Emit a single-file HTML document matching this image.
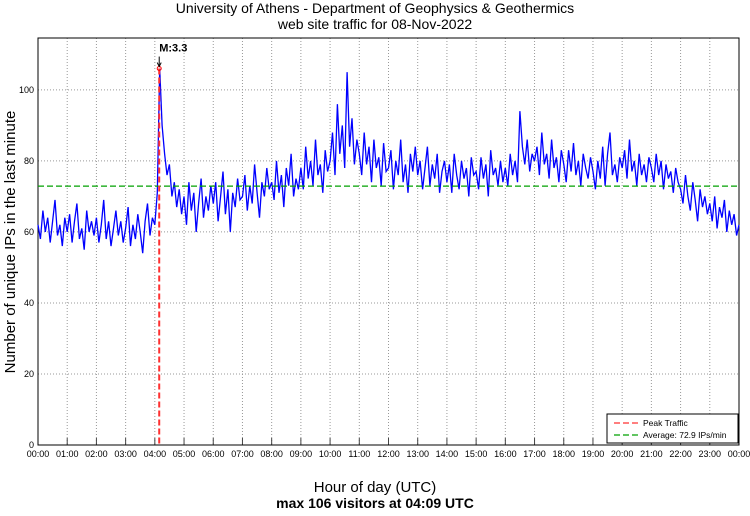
<!DOCTYPE html>
<html><head><meta charset="utf-8"><style>
body{margin:0;background:#fff;width:750px;height:511px;overflow:hidden}
svg text{font-family:"Liberation Sans",sans-serif}
</style></head><body>
<svg id="c" width="750" height="511">
<text x="375" y="13" font-size="14" text-anchor="middle">University of Athens - Department of Geophysics &amp; Geothermics</text>
<text x="375" y="29" font-size="14" text-anchor="middle">web site traffic for 08-Nov-2022</text>
<text x="375" y="492" font-size="15" text-anchor="middle">Hour of day (UTC)</text>
<text x="375" y="508" font-size="14" font-weight="bold" text-anchor="middle">max 106 visitors at 04:09 UTC</text>
<text transform="translate(15,242) rotate(-90)" font-size="15" text-anchor="middle">Number of unique IPs in the last minute</text>
<g id="grid"></g><g id="series"></g><g id="over"></g>
</svg>
<script>
const yTicks=[0,20,40,60,80,100];
const hourLabels=["00:00","01:00","02:00","03:00","04:00","05:00","06:00","07:00","08:00","09:00","10:00","11:00","12:00","13:00","14:00","15:00","16:00","17:00","18:00","19:00","20:00","21:00","22:00","23:00","00:00"];
const averageValue=[72.9];
const peakTime=[4+9/60];
const peakValue=[106];
// 5-minute samples, one row per hour
const visitors=[
62,58,66,60,64,57,63,69,59,62,56,64,
60,65,57,63,68,58,61,55,66,60,63,59,
64,57,62,69,58,63,56,61,66,59,63,57,
61,67,56,62,58,65,60,54,63,68,59,64,
62,71,106,90,82,76,79,70,74,67,72,65,
70,62,74,66,71,60,68,75,64,70,66,73,
68,74,63,70,77,65,72,60,71,67,75,69,
70,76,66,73,68,79,71,64,74,70,78,72,
74,69,80,71,76,67,78,73,82,70,75,72,
78,72,84,75,80,73,86,76,79,71,83,77,
80,88,76,96,82,90,78,105,84,92,79,86,
82,76,88,79,84,74,86,78,81,73,85,77,
78,83,72,80,76,86,74,79,71,82,77,84,
76,80,72,78,84,73,79,75,82,71,77,80,
74,79,71,82,76,72,80,75,78,70,81,76,
77,72,81,75,79,70,83,76,78,73,80,74,
78,73,82,76,80,74,94,84,79,86,77,82,
80,84,76,88,79,82,75,86,78,81,74,83,
79,74,83,77,85,76,80,73,82,78,75,81,
77,72,80,75,84,73,82,88,76,79,74,81,
78,83,75,86,77,80,73,82,76,79,74,81,
78,74,82,76,80,72,79,75,77,71,78,74,
72,68,76,70,66,74,69,63,72,67,70,65,
68,63,70,61,67,64,69,60,66,62,65,59,
62];
const L=38,R=739,T=38,B=445,YMAX=114.6;
const X=h=>L+(R-L)*h/24, Y=v=>B-(B-T)*v/YMAX;
const NS="http://www.w3.org/2000/svg";
function mk(p,t,a){const e=document.createElementNS(NS,t);for(const k in a)e.setAttribute(k,a[k]);p.appendChild(e);return e;}
const g=document.getElementById('grid'),s=document.getElementById('series'),o=document.getElementById('over');
yTicks.forEach(v=>{
 if(v>0){const l=mk(g,'line',{x1:L,x2:R,y1:Y(v),y2:Y(v),stroke:'#999','stroke-dasharray':'1,2','stroke-width':1});
 
 }
 const t=mk(g,'text',{x:L-4,y:Y(v)+3,'font-size':9,'text-anchor':'end'});t.textContent=v;
 
 
});
hourLabels.forEach((lab,i)=>{
 const x=X(i);
 if(i>0&&i<24){const l=mk(g,'line',{x1:x,x2:x,y1:T,y2:B,stroke:'#999','stroke-dasharray':'1,2','stroke-width':1});
 
 }
 mk(g,'line',{x1:x,x2:x,y1:B,y2:B-7,stroke:'#444'});
 const t=mk(g,'text',{x:x,y:B+12,'font-size':9,'text-anchor':'middle'});t.textContent=lab;
 
 
});
const frame=mk(g,'rect',{x:L,y:T,width:R-L,height:B-T,fill:'none',stroke:'#000','stroke-width':1});


const step=24/(visitors.length-1);
const pts=visitors.map((v,i)=>X(i*step).toFixed(1)+','+Y(v).toFixed(1)).join(' ');
const pl=mk(s,'polyline',{points:pts,fill:'none',stroke:'#0000ff','stroke-width':1.3});


const av=mk(o,'line',{x1:L,x2:R,y1:Y(averageValue[0]),y2:Y(averageValue[0]),stroke:'#00a000','stroke-dasharray':'6,3','stroke-width':1.2});


const px=X(peakTime[0]);
const pk=mk(o,'line',{x1:px,x2:px,y1:Y(peakValue[0]),y2:B,stroke:'#ff3030','stroke-dasharray':'6,3','stroke-width':2});


const pc=mk(o,'circle',{cx:px,cy:Y(peakValue[0]),r:2,fill:'none',stroke:'red'});


mk(o,'line',{x1:px,x2:px,y1:Y(peakValue[0])-12,y2:Y(peakValue[0])-3,stroke:'#000'});
mk(o,'path',{d:`M${px-2},${Y(peakValue[0])-6} L${px},${Y(peakValue[0])-2} L${px+2},${Y(peakValue[0])-6}`,fill:'none',stroke:'#000'});
const mt=mk(o,'text',{x:px,y:Y(peakValue[0])-17,'font-size':11,'font-weight':'bold'});mt.textContent='M:3.3';


// legend
const lg=mk(o,'g',{});


mk(lg,'rect',{x:607,y:414,width:131,height:29,fill:'#fff',stroke:'#000'});
mk(lg,'line',{x1:614,x2:638,y1:423,y2:423,stroke:'#ff3030','stroke-dasharray':'6,3','stroke-width':1.2});
mk(lg,'line',{x1:614,x2:638,y1:435,y2:435,stroke:'#00a000','stroke-dasharray':'6,3','stroke-width':1.2});
const t1=mk(lg,'text',{x:643,y:426,'font-size':8.5});t1.textContent='Peak Traffic';


const t2=mk(lg,'text',{x:643,y:438,'font-size':8.5});t2.textContent='Average: '+averageValue[0]+' IPs/min';


</script>
</body></html>
